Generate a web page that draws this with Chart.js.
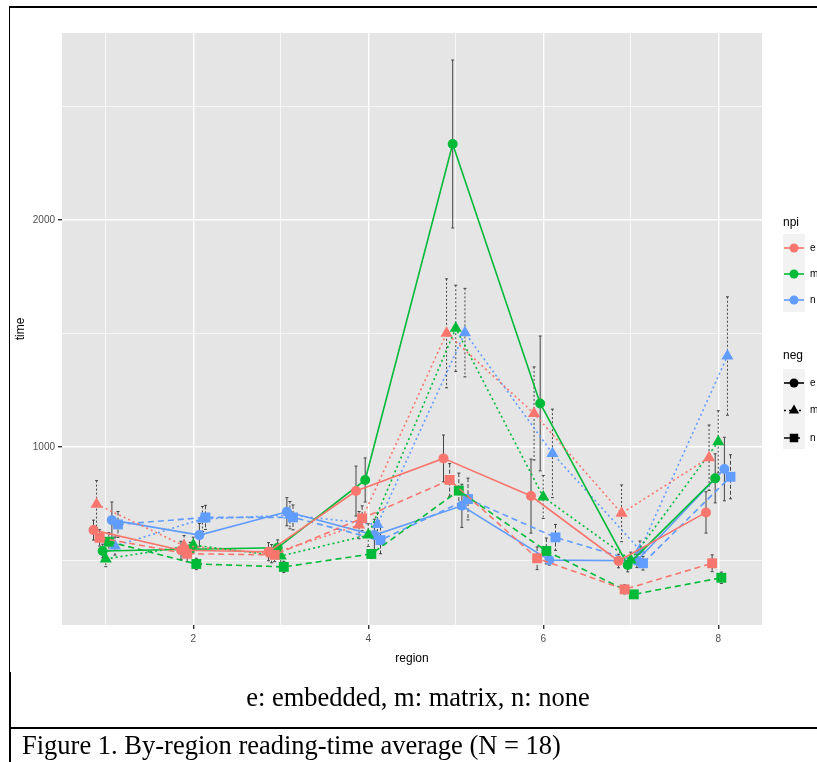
<!DOCTYPE html>
<html>
<head>
<meta charset="utf-8">
<script src="https://cdn.jsdelivr.net/npm/chart.js@4/dist/chart.umd.min.js"></script>
<style>
  html, body { margin: 0; padding: 0; background: #fff; }
  body { width: 817px; height: 762px; position: relative; overflow: hidden; }
  #chart { position: absolute; left: 0; top: 0; }
  .line { position: absolute; background: #000; }
  .cap { position: absolute; font-family: "Liberation Serif", "DejaVu Serif", serif; color: #000; white-space: nowrap; }
</style>
</head>
<body>
<canvas id="chart" width="817" height="762"></canvas>
<div class="line" style="left:9px;top:6px;width:808px;height:2px"></div>
<div class="line" style="left:9px;top:6px;width:1px;height:756px"></div>
<div class="line" style="left:9px;top:672px;width:2px;height:90px"></div>
<div class="line" style="left:9px;top:727px;width:808px;height:2px"></div>
<div class="cap" style="left:0;width:836px;text-align:center;top:682px;font-size:26.5px">e: embedded, m: matrix, n: none</div>
<div class="cap" style="left:22px;top:730px;font-size:26.5px">Figure 1. By-region reading-time average (N = 18)</div>
<script>
// regions on the x axis
const regions = [1, 2, 3, 4, 5, 6, 7, 8];
const npiLevels = ['e', 'm', 'n'];
const negLevels = ['e', 'm', 'n'];

// mean reading time, series named time_<npi>_<neg>
const time_e_e = [634, 545, 539, 806, 950, 784, 498, 712];
const time_e_m = [748, 565, 530, 656, 1501, 1148, 708, 953];
const time_e_n = [600, 530, 525, 686, 855, 510, 373, 488];
const time_m_e = [542, 550, 556, 855, 2335, 1192, 480, 862];
const time_m_m = [507, 568, 520, 612, 1523, 780, 502, 1023];
const time_m_n = [583, 485, 472, 529, 808, 542, 351, 424];
const time_n_e = [678, 612, 715, 612, 741, 502, 499, 903];
const time_n_m = [564, 683, 700, 659, 1504, 972, 546, 1401];
const time_n_n = [659, 690, 690, 590, 771, 602, 488, 869];

// error bar half-widths
const se_e_e = [44, 40, 40, 110, 103, 163, 30, 91];
const se_e_m = [104, 45, 40, 60, 240, 205, 125, 144];
const se_e_n = [36, 35, 30, 55, 72, 50, 20, 37];
const se_m_e = [30, 30, 35, 97, 370, 297, 30, 108];
const se_m_m = [34, 35, 35, 50, 190, 95, 35, 137];
const se_m_n = [40, 25, 25, 20, 77, 57, 15, 25];
const se_n_e = [80, 51, 62, 70, 95, 22, 30, 140];
const se_n_m = [40, 55, 60, 50, 195, 195, 40, 261];
const se_n_n = [57, 53, 55, 60, 92, 57, 30, 97];

// y axis ticks / grid
const yMajor = [1000, 2000];
const yGrid = [500, 1000, 1500, 2000, 2500];
const xMajor = [2, 4, 6, 8];

const times = {
  e: { e: time_e_e, m: time_e_m, n: time_e_n },
  m: { e: time_m_e, m: time_m_m, n: time_m_n },
  n: { e: time_n_e, m: time_n_m, n: time_n_n }
};
const ses = {
  e: { e: se_e_e, m: se_e_m, n: se_e_n },
  m: { e: se_m_e, m: se_m_m, n: se_m_n },
  n: { e: se_n_e, m: se_n_m, n: se_n_n }
};

const npiColor = { e: '#F8766D', m: '#00BA38', n: '#619CFF' };
const negShape = { e: 'circle', m: 'triangle', n: 'rect' };
const negRadius = { e: 5, m: 7, n: 7 };
const negDash = { e: [], m: [2, 3], n: [6, 4] };
const dodge = 0.035;

const datasets = [];
npiLevels.forEach((npi, a) => {
  negLevels.forEach((neg, b) => {
    const k = a * 3 + b - 4;
    datasets.push({
      label: npi + '.' + neg,
      npi: npi,
      neg: neg,
      data: regions.map((r, i) => ({ x: r + k * dodge, y: times[npi][neg][i], se: ses[npi][neg][i] })),
      borderColor: npiColor[npi],
      backgroundColor: npiColor[npi],
      pointBackgroundColor: npiColor[npi],
      pointBorderWidth: 0,
      pointStyle: negShape[neg],
      pointRadius: negRadius[neg],
      borderDash: negDash[neg],
      borderWidth: 1.6,
      tension: 0,
      fill: false
    });
  });
});

const panelBg = {
  id: 'panelBg',
  beforeDraw(chart) {
    const { ctx, chartArea: c } = chart;
    ctx.save();
    ctx.fillStyle = '#E5E5E5';
    ctx.fillRect(c.left, c.top, c.right - c.left, c.bottom - c.top);
    ctx.restore();
  }
};

const errorBars = {
  id: 'errorBars',
  beforeDatasetsDraw(chart) {
    const { ctx, scales: { x, y } } = chart;
    ctx.save();
    ctx.strokeStyle = '#444';
    ctx.lineWidth = 1;
    chart.data.datasets.forEach(ds => {
      ds.data.forEach(p => {
        const px = x.getPixelForValue(p.x);
        const top = y.getPixelForValue(p.y + p.se);
        const bot = y.getPixelForValue(p.y - p.se);
        ctx.setLineDash(ds.neg === 'e' ? [] : (ds.neg === 'm' ? [2, 2] : [4, 2]));
        ctx.beginPath();
        ctx.moveTo(px, top); ctx.lineTo(px, bot);
        ctx.stroke();
        ctx.setLineDash([]);
        ctx.beginPath();
        ctx.moveTo(px - 1.5, top); ctx.lineTo(px + 1.5, top);
        ctx.moveTo(px - 1.5, bot); ctx.lineTo(px + 1.5, bot);
        ctx.stroke();
      });
    });
    ctx.restore();
  }
};

function drawKey(ctx, x, y, color, dash, shape, radius) {
  ctx.strokeStyle = color;
  ctx.lineWidth = 1.6;
  ctx.setLineDash(dash);
  ctx.beginPath();
  ctx.moveTo(x + 1, y); ctx.lineTo(x + 21, y);
  ctx.stroke();
  ctx.setLineDash([]);
  ctx.fillStyle = color;
  Chart.helpers.drawPoint(ctx, { pointStyle: shape, radius: radius, borderWidth: 0 }, x + 11, y);
}

const legendPlugin = {
  id: 'ggLegend',
  afterDraw(chart) {
    const ctx = chart.ctx;
    ctx.save();
    ctx.textBaseline = 'middle';
    ctx.fillStyle = '#F2F2F2';
    ctx.fillRect(783, 234, 22, 78);
    ctx.fillRect(783, 369, 22, 80);
    ctx.font = '12px "Liberation Sans", Arial, sans-serif';
    ctx.fillStyle = '#000';
    ctx.fillText('npi', 783, 223);
    npiLevels.forEach((lv, i) => {
      const yy = 248 + i * 26;
      drawKey(ctx, 783, yy, npiColor[lv], [], 'circle', 4.5);
      ctx.fillStyle = '#000';
      ctx.font = '10px "Liberation Sans", Arial, sans-serif';
      ctx.fillText(lv, 810, yy);
    });
    ctx.font = '12px "Liberation Sans", Arial, sans-serif';
    ctx.fillStyle = '#000';
    ctx.fillText('neg', 783, 356);
    negLevels.forEach((lv, i) => {
      const yy = 383 + i * 27.5;
      drawKey(ctx, 783, yy, '#000', negDash[lv], negShape[lv], lv === 'e' ? 4.5 : 6);
      ctx.fillStyle = '#000';
      ctx.font = '10px "Liberation Sans", Arial, sans-serif';
      ctx.fillText(lv, 810, yy);
    });
    ctx.restore();
  }
};

new Chart(document.getElementById('chart'), {
  type: 'line',
  data: { datasets: datasets },
  plugins: [panelBg, errorBars, legendPlugin],
  options: {
    responsive: false,
    animation: false,
    layout: { padding: { left: 9, top: 33, right: 55, bottom: 94 } },
    plugins: { legend: { display: false }, tooltip: { enabled: false } },
    scales: {
      x: {
        type: 'linear',
        min: 0.5,
        max: 8.5,
        afterBuildTicks: s => { s.ticks = regions.map(v => ({ value: v })); },
        afterFit: s => { s.height = 43; },
        border: { display: false },
        grid: {
          color: '#FFFFFF',
          lineWidth: c => (c.tick && xMajor.includes(c.tick.value)) ? 1.4 : 0.7,
          tickColor: c => (c.tick && xMajor.includes(c.tick.value)) ? '#333' : 'rgba(0,0,0,0)',
          tickLength: 4,
          drawTicks: true
        },
        ticks: {
          autoSkip: false,
          maxRotation: 0,
          padding: 4,
          color: '#4D4D4D',
          font: { family: '"Liberation Sans", Arial, sans-serif', size: 10 },
          callback: v => xMajor.includes(v) ? String(v) : ''
        },
        title: {
          display: true,
          text: 'region',
          color: '#000',
          padding: { top: 2, bottom: 2 },
          font: { family: '"Liberation Sans", Arial, sans-serif', size: 12 }
        }
      },
      y: {
        type: 'linear',
        min: 216,
        max: 2824,
        afterBuildTicks: s => { s.ticks = yGrid.map(v => ({ value: v })); },
        afterFit: s => { s.width = 53; },
        border: { display: false },
        grid: {
          color: '#FFFFFF',
          lineWidth: c => (c.tick && yMajor.includes(c.tick.value)) ? 1.4 : 0.7,
          tickColor: c => (c.tick && yMajor.includes(c.tick.value)) ? '#333' : 'rgba(0,0,0,0)',
          tickLength: 4,
          drawTicks: true
        },
        ticks: {
          autoSkip: false,
          padding: 3,
          color: '#4D4D4D',
          font: { family: '"Liberation Sans", Arial, sans-serif', size: 10 },
          callback: v => yMajor.includes(v) ? String(v) : ''
        },
        title: {
          display: true,
          text: 'time',
          color: '#000',
          padding: { top: 4, bottom: 4 },
          font: { family: '"Liberation Sans", Arial, sans-serif', size: 12 }
        }
      }
    }
  }
});
</script>
</body>
</html>
